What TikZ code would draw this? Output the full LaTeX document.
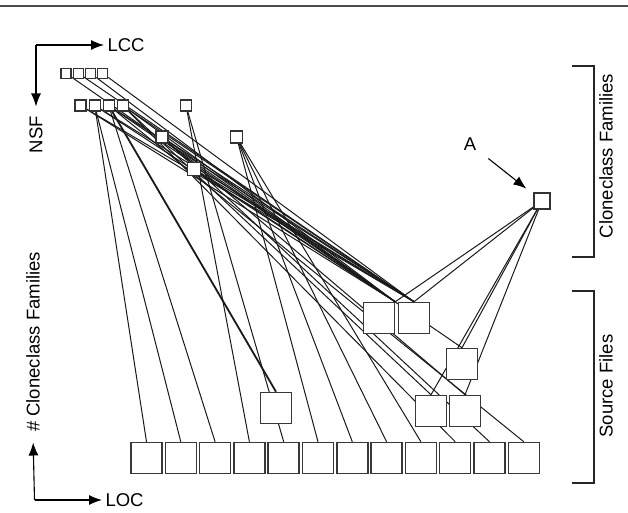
\documentclass[tikz,border=0pt]{standalone}
\usepackage{fontspec}
\setmainfont{Liberation Sans}
\usetikzlibrary{arrows.meta,backgrounds}
\tikzset{
  fam/.style={draw=black!80,fill=white,line width=1.2pt,inner sep=0pt,minimum size=#1},
  fam/.default=10pt,
  srcfile/.style={draw=black!78,fill=white,line width=1.5pt,inner sep=0pt,minimum size=31pt},
  link/.style={line width=1pt,black!90},
  axis/.style={line width=1.1pt,-{Latex[length=13pt,width=10pt]}},
  bracket/.style={line width=1.1pt,black!85},
  lbl/.style={font=\fontsize{18.5}{22}\selectfont}
}
\begin{document}
\begin{tikzpicture}[x=1pt,y=-1pt]
 \useasboundingbox (0,0) rectangle (628,512);
 \draw[line width=1.3pt,black!70] (0,6) -- (628,6);
 % axes
 \coordinate (otop) at (36,45);
 \node[lbl,anchor=west] (lcc) at (104,45) {LCC};
 \node[lbl,rotate=90] (nsf) at (36,134.5) {NSF};
 \draw[axis] (otop) -- (lcc.west);
 \draw[axis,shorten >=6pt] (otop) -- (nsf.east);
 \coordinate (obot) at (34.5,500);
 \node[lbl,anchor=west] (loc) at (102,500) {LOC};
 \node[lbl,rotate=90] (ncf) at (33,342) {\# Cloneclass Families};
 \draw[axis] (obot) -- (loc.west);
 \draw[axis,shorten >=7pt] (obot) -- (ncf.west);
 % brackets
 \draw[bracket] (572,66) -- (594,66) -- (594,257) -- (572,257);
 \node[lbl,rotate=90] (lfam) at (606,156) {Cloneclass Families};
 \draw[bracket] (572,291) -- (594,291) -- (594,483) -- (572,483);
 \node[lbl,rotate=90] (lsrc) at (606,386) {Source Files};
 % cloneclass families
 \node[fam] (f1) at (66,73.3) {};
 \node[fam] (f2) at (78.3,73.3) {};
 \node[fam] (f3) at (90.7,73.3) {};
 \node[fam] (f4) at (102.7,73.3) {};
 \node[fam=11pt] (f5) at (80.5,105.5) {};
 \node[fam=11pt] (f6) at (94.7,105.5) {};
 \node[fam=11pt] (f7) at (108.7,105.5) {};
 \node[fam=11pt] (f8) at (122.8,105.5) {};
 \node[fam=11pt] (f9) at (186,105.5) {};
 \node[fam=12pt] (f10) at (162,137) {};
 \node[fam=12pt] (f11) at (236.5,137) {};
 \node[fam=12.5pt] (f12) at (194,169) {};
 \node[fam=16pt] (fA) at (542,201) {};
 \node[lbl] (alab) at (470,144) {A};
 \draw[axis,shorten <=11pt,shorten >=9pt] (alab) -- (fA);
 % source files
 \node[srcfile] (s1) at (379,318) {};
 \node[srcfile] (s2) at (414,318) {};
 \node[srcfile] (s3) at (462,364) {};
 \node[srcfile] (s4) at (431,411) {};
 \node[srcfile] (s5) at (465,411) {};
 \node[srcfile] (s6) at (276,408) {};
 \foreach \i in {1,...,12}
   \node[srcfile] (b\i) at ({146.5+34.3*(\i-1)},458) {};
 % links
 \begin{scope}[on background layer]
   \foreach \u/\v in {f6/b1,f6/b2,f7/b3,f9/b4,f9/b5,f11/b6,f11/b7,f11/b8,f11/b9,
       f8/b10,f10/b11,f7/b12,f7/s3,f8/s4,f10/s5,fA/s2,fA/s3,fA/s4,fA/s5,
       f2/s2,f4/s2,f5/s2,f6/s2,f7/s2,f8/s2,f10/s2,f12/s2}
     \draw[link] (\u) -- (\v.north);
   \foreach \u in {f1,f3,f5,f6,f8,f10,f12,fA}
     \draw[link] (\u) -- (s1.north east);
   \draw[link,line width=1.8pt] (f7) -- (s6.north);
 \end{scope}
\end{tikzpicture}
\end{document}
